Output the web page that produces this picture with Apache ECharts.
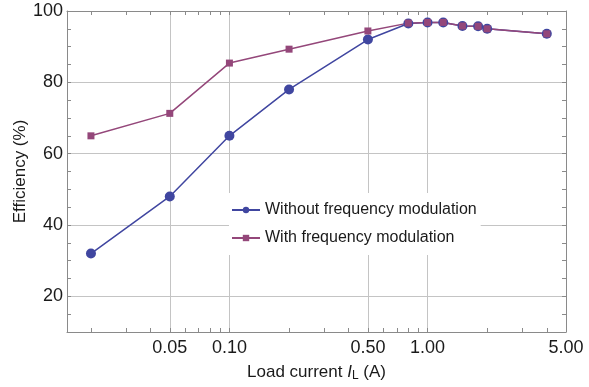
<!DOCTYPE html>
<html>
<head>
<meta charset="utf-8">
<script src="https://cdn.jsdelivr.net/npm/echarts@6/dist/echarts.min.js"></script>
<style>
  html, body { margin: 0; padding: 0; background: #fff; }
  #main { width: 589px; height: 387px; }
</style>
</head>
<body>
<div id="main"></div>
<script>
  // load current (A) and efficiency (%)
  var loadCurrent = [0.02, 0.05, 0.1, 0.2, 0.5, 0.8, 1.0, 1.2, 1.5, 1.8, 2.0, 4.0];
  var effWithout = [32, 48, 65, 78, 92, 96.5, 96.8, 96.8, 95.8, 95.7, 95.0, 93.6];
  var effWith = [65, 71.3, 85.4, 89.3, 94.4, 96.6, 96.8, 96.8, 95.8, 95.7, 95.0, 93.6];

  var xTicks = [0.05, 0.1, 0.5, 1, 5];
  var xMinorTicks = [0.02, 0.03, 0.04, 0.06, 0.07, 0.08, 0.09, 0.2, 0.3, 0.4, 0.6, 0.7, 0.8, 0.9, 2, 3, 4];
  var yTicks = [20, 40, 60, 80, 100];
  var yMinorTicks = [15, 25, 30, 35, 45, 50, 55, 65, 70, 75, 85, 90, 95];

  var xMin = 0.01514, xMax = 5;
  var yMin = 10, yMax = 100;

  var frameColor = '#8a8a8a';
  var gridColor = '#c4c4c4';
  var font = '"Liberation Sans", Arial, sans-serif';

  function pairs(xs, ys) {
    var out = [];
    for (var i = 0; i < xs.length; i++) out.push([xs[i], ys[i]]);
    return out;
  }

  var allX = xTicks.concat(xMinorTicks);
  var allY = yTicks.concat(yMinorTicks);

  var chart = echarts.init(document.getElementById('main'));

  chart.setOption({
    animation: false,
    backgroundColor: '#fff',
    textStyle: { fontFamily: font },
    grid: { left: 67, right: 23, top: 11, bottom: 52, containLabel: false },
    legend: {
      orient: 'vertical',
      left: 229,
      top: 193,
      padding: [9, 4, 9, 2],
      itemGap: 12,
      itemWidth: 28,
      itemHeight: 8,
      backgroundColor: '#fff',
      textStyle: { fontSize: 16, color: '#1a1a1a', fontFamily: font },
      data: ['Without frequency modulation', 'With frequency modulation']
    },
    xAxis: [{
      type: 'log', logBase: 10, min: xMin, max: xMax, position: 'bottom',
      name: '{a|Load current }{i|I}{s|L}{a| (A)}',
      nameLocation: 'middle', nameGap: 30, nameMoveOverlap: false,
      nameTextStyle: {
        rich: {
          a: { fontSize: 17, color: '#1a1a1a', fontFamily: font },
          i: { fontSize: 17, color: '#1a1a1a', fontStyle: 'italic', fontFamily: font },
          s: { fontSize: 12, color: '#1a1a1a', fontFamily: font, padding: [8, 0, 0, 0] }
        }
      },
      axisLine: { show: true, lineStyle: { color: frameColor } },
      axisTick: { show: true, inside: true, length: 4, customValues: allX, lineStyle: { color: frameColor } },
      axisLabel: {
        customValues: xTicks, fontSize: 18, color: '#1a1a1a', margin: 7,
        formatter: function (v) { return Number(v).toFixed(2); }
      },
      splitLine: { show: false }
    }, {
      type: 'log', logBase: 10, min: xMin, max: xMax, position: 'bottom',
      axisLine: { show: false },
      axisTick: { show: false, customValues: xTicks },
      axisLabel: { show: false },
      splitLine: { show: true, lineStyle: { color: gridColor, width: 1 } }
    }, {
      type: 'log', logBase: 10, min: xMin, max: xMax, position: 'top',
      axisLine: { show: true, lineStyle: { color: frameColor } },
      axisTick: { show: true, inside: true, length: 4, customValues: allX, lineStyle: { color: frameColor } },
      axisLabel: { show: false },
      splitLine: { show: false }
    }],
    yAxis: [{
      type: 'value', min: yMin, max: yMax, position: 'left',
      name: 'Efficiency (%)', nameLocation: 'middle', nameGap: 38, nameMoveOverlap: false,
      nameTextStyle: { fontSize: 17, color: '#1a1a1a', fontFamily: font },
      axisLine: { show: true, lineStyle: { color: frameColor } },
      axisTick: { show: true, inside: true, length: 4, customValues: allY, lineStyle: { color: frameColor } },
      axisLabel: { customValues: yTicks, fontSize: 18, color: '#1a1a1a', margin: 4 },
      splitLine: { show: false }
    }, {
      type: 'value', min: yMin, max: yMax, position: 'left',
      axisLine: { show: false },
      axisTick: { show: false, customValues: yTicks },
      axisLabel: { show: false },
      splitLine: { show: true, lineStyle: { color: gridColor, width: 1 } }
    }, {
      type: 'value', min: yMin, max: yMax, position: 'right',
      axisLine: { show: true, lineStyle: { color: frameColor } },
      axisTick: { show: true, inside: true, length: 4, customValues: allY, lineStyle: { color: frameColor } },
      axisLabel: { show: false },
      splitLine: { show: false }
    }],
    series: [{
      name: 'Without frequency modulation',
      type: 'line',
      data: pairs(loadCurrent, effWithout),
      symbol: 'circle', symbolSize: 10,
      lineStyle: { color: '#4046a0', width: 1.5 },
      itemStyle: { color: '#4046a0' }
    }, {
      name: 'With frequency modulation',
      type: 'line',
      data: pairs(loadCurrent, effWith),
      symbol: 'rect', symbolSize: 7,
      lineStyle: { color: '#94477a', width: 1.5 },
      itemStyle: { color: '#94477a' }
    }]
  });
</script>
</body>
</html>
